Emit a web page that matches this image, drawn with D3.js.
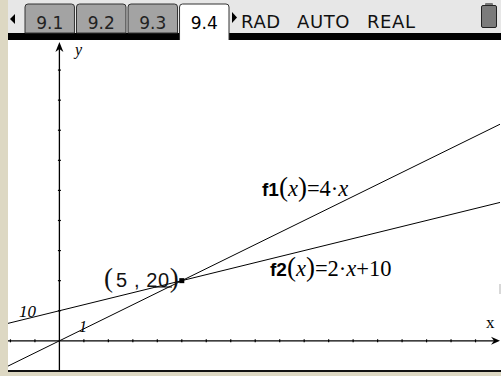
<!DOCTYPE html>
<html>
<head>
<meta charset="utf-8">
<script src="https://cdn.jsdelivr.net/npm/d3@7"></script>
<style>
  html, body { margin: 0; padding: 0; background: #ddd8c3; }
  svg { display: block; }
</style>
</head>
<body>
<svg id="screen" width="501" height="376"></svg>
<script>
// values
var tabNames = ['9.1', '9.2', '9.3', '9.4'];
var activeTab = '9.4';
var modeWords = ['RAD', 'AUTO', 'REAL'];

var xTicks = [-2, -1, 1, 2, 3, 4, 5, 6, 7, 8, 9, 10, 11, 12, 13, 14, 15, 16, 17];
var yTicks = [10, 20, 30, 40, 50, 60, 70, 80, 90];

var f1X = [-2.2, 18.5];
var f1Y = [-8.8, 74];
var f2X = [-2.2, 18.5];
var f2Y = [5.6, 47];

var pointXY = [5, 20];

var svg = d3.select('#screen');

var x = d3.scaleLinear().domain([-2.1, 18]).range([8, 500]);
var y = d3.scaleLinear().domain([-9.7, 100]).range([370, 40]);

// header bar
svg.append('rect').attr('x', 8).attr('y', 0).attr('width', 493).attr('height', 40).style('fill', '#e7e7e7');

// plot area
svg.append('rect').attr('x', 8).attr('y', 40).attr('width', 493).attr('height', 331).style('fill', 'white');
svg.append('defs').append('clipPath').attr('id', 'plotclip')
  .append('rect').attr('x', 8).attr('y', 40).attr('width', 492).attr('height', 330);

// black rule under the tabs
svg.append('rect').attr('x', 8).attr('y', 33).attr('width', 493).attr('height', 7).style('fill', '#000');
// bottom rule
svg.append('rect').attr('x', 8).attr('y', 370).attr('width', 493).attr('height', 2).style('fill', '#111');

// left arrow
svg.append('path').attr('d', 'M10,19 L15,14 L15,24 Z').style('fill', '#000');

var tabX = d3.scaleBand().domain(tabNames).range([25, 229]).paddingInner(0.04);

tabNames.forEach(function(t){
  var x0 = tabX(t), w = tabX.bandwidth();
  var active = t === activeTab;
  var bottom = active ? 40 : 33;
  var d = 'M' + x0 + ',' + bottom + ' L' + x0 + ',7 Q' + x0 + ',4 ' + (x0 + 3) + ',4 L' + (x0 + w - 3) + ',4 Q' + (x0 + w) + ',4 ' + (x0 + w) + ',7 L' + (x0 + w) + ',' + bottom;
  svg.append('path')
    .attr('d', d + (active ? '' : ' Z'))
    .style('fill', active ? 'white' : '#a3a3a3')
    .style('stroke', '#333')
    .style('stroke-width', 1);
  svg.append('text')
    .attr('x', x0 + w / 2)
    .attr('y', 29)
    .attr('text-anchor', 'middle')
    .style('font-family', 'DejaVu Sans, sans-serif')
    .style('font-size', '17px')
    .style('fill', active ? '#000' : '#222')
    .text(t);
});

// right arrow + mode text
svg.append('path').attr('d', 'M232,12 L237,17.5 L232,23 Z').style('fill', '#000');
var modeX = [241, 297, 367];
modeWords.forEach(function(wd, i){
  svg.append('text')
    .attr('x', modeX[i]).attr('y', 28)
    .style('font-family', 'DejaVu Sans, sans-serif')
    .style('font-size', '18px')
    .style('letter-spacing', '0.6px')
    .style('fill', '#111')
    .text(wd);
});

// battery
svg.append('rect').attr('x', 485).attr('y', 3).attr('width', 8).attr('height', 3).attr('rx', 1).style('fill', '#777');
svg.append('rect').attr('x', 481.5).attr('y', 5.5).attr('width', 15).attr('height', 22).attr('rx', 1.5)
  .style('fill', '#7b7b7b').style('stroke', '#222').style('stroke-width', 1);

// little grey piece at the right edge
svg.append('rect').attr('x', 499).attr('y', 284).attr('width', 2).attr('height', 10).style('fill', '#d8d8d8');

var plot = svg.append('g').attr('clip-path', 'url(#plotclip)');

// axes
var x0px = x(0), y0px = y(0);
plot.append('line').attr('x1', 8).attr('x2', 496).attr('y1', y0px).attr('y2', y0px)
  .style('stroke', '#000').style('stroke-width', 1.3);
plot.append('line').attr('x1', x0px).attr('x2', x0px).attr('y1', 370).attr('y2', 46)
  .style('stroke', '#000').style('stroke-width', 1.3);
plot.append('path').attr('d', 'M500,' + y0px + ' L491,' + (y0px - 4) + ' L494,' + y0px + ' L491,' + (y0px + 4) + ' Z').style('fill', '#000');
plot.append('path').attr('d', 'M' + x0px + ',42 L' + (x0px - 4) + ',52 L' + x0px + ',49 L' + (x0px + 4) + ',52 Z').style('fill', '#000');

// tick marks
plot.selectAll('.xt').data(xTicks).enter().append('line')
  .attr('class', 'xt')
  .attr('x1', function(d){ return x(d); }).attr('x2', function(d){ return x(d); })
  .attr('y1', y0px - 1.5).attr('y2', y0px + 1.5)
  .style('stroke', '#000').style('stroke-width', 1.2);
plot.selectAll('.yt').data(yTicks).enter().append('line')
  .attr('class', 'yt')
  .attr('x1', x0px - 1.5).attr('x2', x0px + 1.5)
  .attr('y1', function(d){ return y(d); }).attr('y2', function(d){ return y(d); })
  .style('stroke', '#000').style('stroke-width', 1.2);

// axis names
svg.append('text').attr('x', 75).attr('y', 55)
  .style('font-family', 'Liberation Serif, serif').style('font-style', 'italic').style('font-size', '16px')
  .text('y');
svg.append('text').attr('x', 486).attr('y', 328)
  .style('font-family', 'Liberation Serif, serif').style('font-size', '17px')
  .text('x');

// graphs
var line = d3.line().x(function(d){ return x(d[0]); }).y(function(d){ return y(d[1]); });
plot.append('path').datum(d3.zip(f1X, f1Y)).attr('d', line)
  .style('fill', 'none').style('stroke', '#000').style('stroke-width', 1);
plot.append('path').datum(d3.zip(f2X, f2Y)).attr('d', line)
  .style('fill', 'none').style('stroke', '#000').style('stroke-width', 1);

// point
svg.append('rect')
  .attr('x', x(pointXY[0]) - 2.5).attr('y', y(pointXY[1]) - 2.5)
  .attr('width', 5).attr('height', 5).style('fill', '#000');

// point label
var pl = svg.append('text').attr('x', 104).attr('y', 287)
  .style('font-family', 'Liberation Sans, sans-serif').style('font-size', '20px').style('fill', '#111');
pl.append('tspan').style('font-family', 'Liberation Serif, serif').style('font-size', '27px').style('font-weight', '300').text('(');
pl.append('tspan').attr('dx', 3).style('letter-spacing', '0.6px').text('5 , 20');
pl.append('tspan').style('font-family', 'Liberation Serif, serif').style('font-size', '27px').style('font-weight', '300').text(')');
svg.append('line').attr('x1', 155).attr('x2', 172).attr('y1', 287).attr('y2', 287)
  .style('stroke', '#000').style('stroke-width', 1);

// function labels
function fnLabel(px, py, name, rhs){
  var t = svg.append('text').attr('x', px).attr('y', py)
    .style('font-family', 'Liberation Serif, serif').style('font-size', '22.5px');
  t.append('tspan').style('font-family', 'Liberation Sans, sans-serif').style('font-weight', 'bold').style('font-size', '19px').text(name);
  t.append('tspan').style('font-size', '27px').style('font-weight', '300').text('(');
  t.append('tspan').style('font-style', 'italic').text('x');
  t.append('tspan').style('font-size', '27px').style('font-weight', '300').text(')');
  rhs.forEach(function(r){
    t.append('tspan').style('font-style', r.it ? 'italic' : 'normal').text(r.s);
  });
}
fnLabel(262, 196, 'f1', [{s: '=4·'}, {s: 'x', it: true}]);
fnLabel(270, 276, 'f2', [{s: '=2·'}, {s: 'x', it: true}, {s: '+10'}]);

// small slope / intercept labels
svg.append('text').attr('x', 19).attr('y', 317)
  .style('font-family', 'Liberation Serif, serif').style('font-style', 'italic').style('font-size', '17px')
  .text('10');
svg.append('text').attr('x', 79).attr('y', 332)
  .style('font-family', 'Liberation Serif, serif').style('font-style', 'italic').style('font-size', '16px')
  .text('1');
</script>
</body>
</html>
